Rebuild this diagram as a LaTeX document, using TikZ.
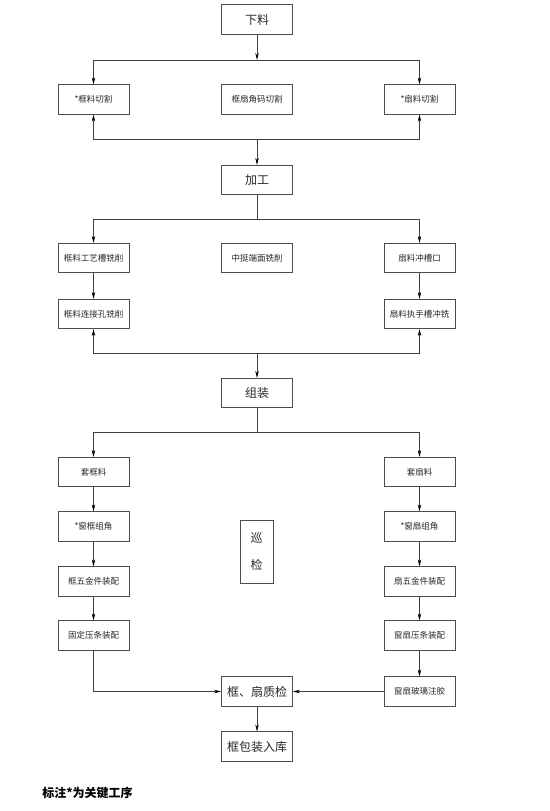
\documentclass[tikz,border=0pt]{standalone}
\usepackage{fontspec}
\setmainfont{Noto Sans CJK SC}
\usetikzlibrary{arrows.meta}

\begin{document}
\begin{tikzpicture}[x=1pt,y=1pt,
    box/.style={draw=black!70, line width=0.7pt, minimum width=71pt, minimum height=29.5pt, inner sep=0pt, font=\fontsize{8.5}{10}\selectfont, text=black!85},
    bigbox/.style={box, font=\fontsize{12}{14}\selectfont},
    line/.style={draw=black!75, line width=0.6pt},
    arr/.style={line, -{Stealth[length=7pt,width=3.4pt,black]}}]
            \useasboundingbox (0,0) rectangle (549,-811);
            % top stage
            \node [bigbox] (xl) at (257,-19.5) {下料};
            \node [box] (ql) at (93.5,-99.5) {*框料切割};
            \node [box] (jm) at (257,-99.5) {框扇角码切割};
            \node [box] (qs) at (419.5,-99.5) {*扇料切割};
            \node [bigbox] (jg) at (257,-180) {加工};
            % processing
            \node [box] (gy) at (93.5,-258) {框料工艺槽铣削};
            \node [box] (zt) at (257,-258) {中挺端面铣削};
            \node [box] (cc) at (419.5,-258) {扇料冲槽口};
            \node [box] (lj) at (93.5,-314) {框料连接孔铣削};
            \node [box] (zs) at (419.5,-314) {扇料执手槽冲铣};
            \node [bigbox] (zz) at (257,-393) {组装};
            % assembly
            \node [box] (tk) at (93.5,-472) {套框料};
            \node [box] (kj) at (93.5,-526.5) {*窗框组角};
            \node [box] (kw) at (93.5,-581.5) {框五金件装配};
            \node [box] (gd) at (93.5,-635.5) {固定压条装配};
            \node [box] (ts) at (419.5,-472) {套扇料};
            \node [box] (sj) at (419.5,-526.5) {*窗扇组角};
            \node [box] (sw) at (419.5,-581.5) {扇五金件装配};
            \node [box] (sy) at (419.5,-635.5) {窗扇压条装配};
            \node [box] (bl) at (419.5,-691.5) {窗扇玻璃注胶};
            \node [bigbox, minimum width=33pt, minimum height=63pt, align=center, font=\fontsize{12}{27}\selectfont] (xj) at (256.5,-551.5) {巡\\检};
            \node [bigbox] (zj) at (257,-691.5) {框、扇质检};
            \node [bigbox] (bz) at (257,-746.5) {框包装入库};
            \node [font=\fontsize{12}{14}\selectfont\bfseries] (note) at (87.5,-793) {标注*为关键工序};
            % split points
            \coordinate (s1) at (257,-60);
            \coordinate (j1) at (257,-139);
            \coordinate (s2) at (257,-219);
            \coordinate (j2) at (257,-353);
            \coordinate (s3) at (257,-432);
            % connectors
            \draw [arr] (xl.south) -- (s1);
            \draw [arr] (s1) -| (ql.north);
            \draw [arr] (s1) -| (qs.north);
            \draw [arr] (j1) -| (ql.south);
            \draw [arr] (j1) -| (qs.south);
            \draw [arr] (j1) -- (jg.north);
            \draw [line] (jg.south) -- (s2);
            \draw [arr] (s2) -| (gy.north);
            \draw [arr] (s2) -| (cc.north);
            \draw [arr] (gy) -- (lj);
            \draw [arr] (cc) -- (zs);
            \draw [arr] (j2) -| (lj.south);
            \draw [arr] (j2) -| (zs.south);
            \draw [arr] (j2) -- (zz.north);
            \draw [line] (zz.south) -- (s3);
            \draw [arr] (s3) -| (tk.north);
            \draw [arr] (s3) -| (ts.north);
            \draw [arr] (tk) -- (kj);
            \draw [arr] (kj) -- (kw);
            \draw [arr] (kw) -- (gd);
            \draw [arr] (ts) -- (sj);
            \draw [arr] (sj) -- (sw);
            \draw [arr] (sw) -- (sy);
            \draw [arr] (sy) -- (bl);
            \draw [arr] (gd.south) |- (zj.west);
            \draw [arr] (bl.west) -- (zj.east);
            \draw [arr] (zj) -- (bz);
        \end{tikzpicture}
\end{document}
